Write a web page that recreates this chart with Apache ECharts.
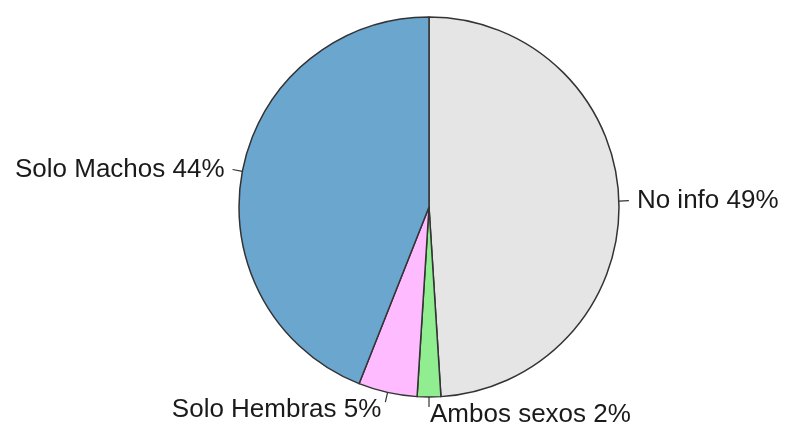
<!DOCTYPE html>
<html>
<head>
<meta charset="utf-8">
<script src="https://cdn.jsdelivr.net/npm/echarts@6/dist/echarts.min.js"></script>
<style>
  html, body { margin: 0; padding: 0; background: #ffffff; }
  #chart { width: 785px; height: 424px; }
</style>
</head>
<body>
<div id="chart"></div>
<script>
// Sex composition of records (percent), drawn clockwise from 12 o'clock
const categories = ['No info', 'Ambos sexos', 'Solo Hembras', 'Solo Machos'];
const percents = [49, 2, 5, 44];
const colors = ['#e5e5e5', '#90ee90', '#ffbbff', '#6ba6cf'];

// labels under the pie sit a little lower than the end of their leader line
const lowered = { 'Ambos sexos': 8, 'Solo Hembras': 8 };
const labelGap = { 'Ambos sexos': 1, 'Solo Hembras': 4 };

const chart = echarts.init(document.getElementById('chart'), null, { renderer: 'canvas' });

chart.setOption({
  animation: false,
  backgroundColor: '#ffffff',
  series: [{
    type: 'pie',
    center: [429, 207],
    radius: 190,
    startAngle: 90,
    clockwise: true,
    avoidLabelOverlap: false,
    data: categories.map((name, i) => ({
      name: name,
      value: percents[i],
      itemStyle: { color: colors[i] },
      label: name in labelGap ? { distanceToLabelLine: labelGap[name] } : {}
    })),
    itemStyle: { borderColor: '#333333', borderWidth: 1.5 },
    label: {
      show: true,
      position: 'outside',
      formatter: p => p.name + ' ' + p.value + '%',
      fontFamily: 'Liberation Sans, Arial, sans-serif',
      fontSize: 26,
      color: '#1a1a1a',
      distanceToLabelLine: 8
    },
    labelLayout: function (params) {
      const name = categories[params.dataIndex];
      return { dy: lowered[name] || 0 };
    },
    labelLine: {
      show: true,
      length: 10,
      length2: 0,
      smooth: false,
      lineStyle: { color: '#333333', width: 1.2 }
    },
    emphasis: { disabled: true }
  }]
});
</script>
</body>
</html>
